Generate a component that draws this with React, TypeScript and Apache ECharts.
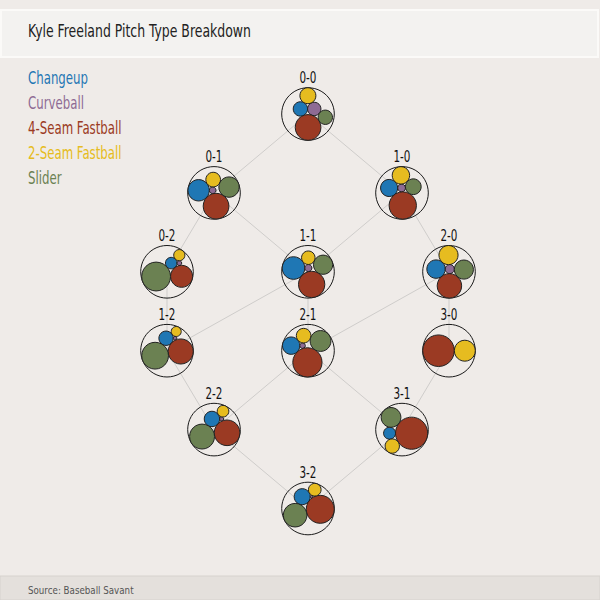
import React, { useEffect, useRef } from "react";
import * as echarts from "echarts";

const COUNTS = ["0-0", "0-1", "1-0", "0-2", "1-1", "2-0", "1-2", "2-1", "3-0", "2-2", "3-1", "3-2"];
const PITCH_TYPES = ["Changeup", "Curveball", "4-Seam Fastball", "2-Seam Fastball", "Slider"];
const PITCH_COLORS = ["#1f77b4", "#8e6b94", "#9b3a23", "#e6bc20", "#6b8152"];
// share of pitches (%) per count, in COUNTS order
const CHANGEUP = [13.7, 25.5, 17.7, 8.3, 28.3, 19.4, 12.4, 15.9, 0, 14.2, 8.1, 14.6];
const CURVEBALL = [11.8, 2.5, 3.7, 1.4, 2.8, 4.7, 0.8, 1.6, 0, 1.0, 0, 0.4];
const FOURSEAM = [43.8, 36.9, 45.2, 30.4, 38.4, 34.2, 37.8, 45.0, 69.5, 39.4, 58.2, 44.5];
const TWOSEAM = [17.0, 12.0, 18.4, 7.8, 10.1, 20.9, 6.0, 11.2, 30.5, 8.1, 11.6, 9.1];
const SLIDER = [13.7, 23.1, 15.0, 52.0, 20.5, 20.9, 43.0, 22.9, 0, 37.3, 22.1, 31.5];
const SERIES_VALUES = [CHANGEUP, CURVEBALL, FOURSEAM, TWOSEAM, SLIDER];

const TITLE = "Kyle Freeland Pitch Type Breakdown";
const SOURCE = "Source: Baseball Savant";

const FONT = "'DejaVu Sans Condensed', 'DejaVu Sans', sans-serif";
const NARROW = 0.77;
const OUTER_R = 26.3;

type Circ = { x: number; y: number; r: number; k: number };

// ---- circle packing (port of d3-hierarchy packSiblings, centroid variant) ----
function place(a: Circ, b: Circ, c: Circ) {
  const ax = a.x, ay = a.y;
  let da = b.r + c.r, db = a.r + c.r;
  const dx = b.x - ax, dy = b.y - ay, dc = dx * dx + dy * dy;
  if (dc) {
    db *= db;
    da *= da;
    const x = 0.5 + (db - da) / (2 * dc);
    const dbm = db - dc;
    const y = Math.sqrt(Math.max(0, 2 * da * (db + dc) - dbm * dbm - da * da)) / (2 * dc);
    c.x = ax + x * dx + y * dy;
    c.y = ay + x * dy - y * dx;
  } else {
    c.x = ax + db;
    c.y = ay;
  }
}
function intersects(a: Circ, b: Circ) {
  const dx = b.x - a.x, dy = b.y - a.y, dr = a.r + b.r;
  return dr * dr - 1e-6 > dx * dx + dy * dy;
}
function distance2(c: Circ, x: number, y: number) {
  const dx = c.x - x, dy = c.y - y;
  return dx * dx + dy * dy;
}
function enclosesNot(a: any, b: any) {
  const dr = a.r - b.r, dx = b.x - a.x, dy = b.y - a.y;
  return dr < 0 || dr * dr < dx * dx + dy * dy;
}
function enclosesWeak(a: any, b: any) {
  const dr = a.r - b.r + Math.max(a.r, b.r, 1) * 1e-9, dx = b.x - a.x, dy = b.y - a.y;
  return dr > 0 && dr * dr > dx * dx + dy * dy;
}
function enclosesWeakAll(a: any, B: any[]) {
  for (let i = 0; i < B.length; ++i) if (!enclosesWeak(a, B[i])) return false;
  return true;
}
function encloseBasis2(a: any, b: any) {
  const x1 = a.x, y1 = a.y, r1 = a.r, x2 = b.x, y2 = b.y, r2 = b.r;
  const x21 = x2 - x1, y21 = y2 - y1, r21 = r2 - r1;
  const l = Math.sqrt(x21 * x21 + y21 * y21);
  return { x: (x1 + x2 + (x21 / l) * r21) / 2, y: (y1 + y2 + (y21 / l) * r21) / 2, r: (l + r1 + r2) / 2 };
}
function encloseBasis3(a: any, b: any, c: any) {
  const x1 = a.x, y1 = a.y, r1 = a.r, x2 = b.x, y2 = b.y, r2 = b.r, x3 = c.x, y3 = c.y, r3 = c.r;
  const a2 = x1 - x2, a3 = x1 - x3, b2 = y1 - y2, b3 = y1 - y3, c2 = r2 - r1, c3 = r3 - r1;
  const d1 = x1 * x1 + y1 * y1 - r1 * r1;
  const d2 = d1 - x2 * x2 - y2 * y2 + r2 * r2;
  const d3 = d1 - x3 * x3 - y3 * y3 + r3 * r3;
  const ab = a3 * b2 - a2 * b3;
  const xa = (b2 * d3 - b3 * d2) / (ab * 2) - x1;
  const xb = (b3 * c2 - b2 * c3) / ab;
  const ya = (a3 * d2 - a2 * d3) / (ab * 2) - y1;
  const yb = (a2 * c3 - a3 * c2) / ab;
  const A = xb * xb + yb * yb - 1;
  const B = 2 * (r1 + xa * xb + ya * yb);
  const C = xa * xa + ya * ya - r1 * r1;
  const r = -(Math.abs(A) > 1e-6 ? (B + Math.sqrt(B * B - 4 * A * C)) / (2 * A) : C / B);
  return { x: x1 + xa + xb * r, y: y1 + ya + yb * r, r };
}
function encloseBasis(B: any[]) {
  if (B.length === 1) return { x: B[0].x, y: B[0].y, r: B[0].r };
  if (B.length === 2) return encloseBasis2(B[0], B[1]);
  return encloseBasis3(B[0], B[1], B[2]);
}
function extendBasis(B: any[], p: any) {
  if (enclosesWeakAll(p, B)) return [p];
  for (let i = 0; i < B.length; ++i) {
    if (enclosesNot(p, B[i]) && enclosesWeakAll(encloseBasis2(B[i], p), B)) return [B[i], p];
  }
  for (let i = 0; i < B.length - 1; ++i) {
    for (let j = i + 1; j < B.length; ++j) {
      if (
        enclosesNot(encloseBasis2(B[i], B[j]), p) &&
        enclosesNot(encloseBasis2(B[i], p), B[j]) &&
        enclosesNot(encloseBasis2(B[j], p), B[i]) &&
        enclosesWeakAll(encloseBasis3(B[i], B[j], p), B)
      ) return [B[i], B[j], p];
    }
  }
  return B;
}
function enclose(circles: any[]) {
  let i = 0, B: any[] = [], e: any = null, guard = 0;
  const n = circles.length;
  while (i < n && guard++ < 10000) {
    const p = circles[i];
    if (e && enclosesWeak(e, p)) ++i;
    else { B = extendBasis(B, p); e = encloseBasis(B); i = 0; }
  }
  return e;
}
function packSiblings(circles: Circ[]): number {
  const n = circles.length;
  if (!n) return 0;
  let a: any, b: any, c: any, i: number, j: any, k: any, sj: number, sk: number;
  a = circles[0]; a.x = 0; a.y = 0;
  if (!(n > 1)) return a.r;
  b = circles[1]; a.x = -b.r; b.x = a.r; b.y = 0;
  if (!(n > 2)) return a.r + b.r;
  place(b, a, (c = circles[2]));
  let aa = a.r * a.r, ba = b.r * b.r, ca = c.r * c.r;
  let oa = aa + ba + ca;
  let ox = aa * a.x + ba * b.x + ca * c.x;
  let oy = aa * a.y + ba * b.y + ca * c.y;
  a = { _: a, next: null, previous: null };
  b = { _: b, next: null, previous: null };
  c = { _: c, next: null, previous: null };
  a.next = c.previous = b;
  b.next = a.previous = c;
  c.next = b.previous = a;
  pack: for (i = 3; i < n; ++i) {
    place(a._, b._, (c = circles[i]));
    c = { _: c, next: null, previous: null };
    j = b.next; k = a.previous; sj = b._.r; sk = a._.r;
    do {
      if (sj <= sk) {
        if (intersects(j._, c._)) { b = j; a.next = b; b.previous = a; --i; continue pack; }
        sj += j._.r; j = j.next;
      } else {
        if (intersects(k._, c._)) { a = k; a.next = b; b.previous = a; --i; continue pack; }
        sk += k._.r; k = k.previous;
      }
    } while (j !== k.next);
    c.previous = a; c.next = b; a.next = b.previous = b = c;
    ca = c._.r * c._.r;
    oa += ca; ox += ca * c._.x; oy += ca * c._.y;
    const cx = ox / oa, cy = oy / oa;
    aa = distance2(a._, cx, cy);
    while ((c = c.next) !== b) {
      const d = distance2(c._, cx, cy);
      if (d < aa) { a = c; aa = d; }
    }
    b = a.next;
  }
  const front: Circ[] = [b._];
  c = b;
  while ((c = c.next) !== b) front.push(c._);
  const e = enclose(front);
  for (i = 0; i < n; ++i) { circles[i].x -= e.x; circles[i].y -= e.y; }
  return e.r;
}

// ---- build node layout ----
const NODES = COUNTS.map((name, idx) => {
  const [balls, strikes] = name.split("-").map(Number);
  const row = balls + strikes;
  const rowMembers = COUNTS.filter((c) => c.split("-").map(Number).reduce((s, v) => s + v, 0) === row)
    .map((c) => Number(c.split("-")[0]))
    .sort((p, q) => p - q);
  const pos = rowMembers.indexOf(balls);
  const m = rowMembers.length;
  const col = m === 1 ? 0 : m === 2 ? (pos === 0 ? -2 : 2) : (pos - 1) * 3;
  const circles: Circ[] = [];
  SERIES_VALUES.forEach((arr, k) => {
    const v = arr[idx];
    if (v > 0) circles.push({ x: 0, y: 0, r: Math.sqrt(v), k });
  });
  const encR = packSiblings(circles);
  return { name, balls, strikes, row, col, circles, encR };
});

const EDGES: number[][] = [];
NODES.forEach((nd) => {
  const nb = NODES.find((o) => o.balls === nd.balls + 1 && o.strikes === nd.strikes);
  const ns = NODES.find((o) => o.balls === nd.balls && o.strikes === nd.strikes + 1);
  if (nb) EDGES.push([nd.col, nd.row, nb.col, nb.row]);
  if (ns) EDGES.push([nd.col, nd.row, ns.col, ns.row]);
});

export default function App() {
  const ref = useRef<HTMLDivElement>(null);
  useEffect(() => {
    if (!ref.current) return;
    const chart = echarts.init(ref.current, undefined, { renderer: "svg" });
    const legendTexts = PITCH_TYPES.map((t, i) => ({
      type: "text",
      x: 28,
      y: 78 + i * 25,
      scaleX: NARROW,
      style: { text: t, x: 0, y: 0, verticalAlign: "middle", fill: PITCH_COLORS[i], font: `17px ${FONT}` },
    }));
    chart.setOption({
      animation: false,
      backgroundColor: "#efebe8",
      grid: { left: 73, width: 470, top: 35.1, height: 552.3 },
      xAxis: { type: "value", min: -5, max: 5, show: false },
      yAxis: { type: "value", min: -1, max: 6, inverse: true, show: false },
      graphic: [
        {
          type: "rect",
          shape: { x: 1, y: 10, width: 597, height: 47 },
          style: { fill: "#f3f2f0", stroke: "#fbfaf8", lineWidth: 2 },
          z: 0,
        },
        {
          type: "text",
          x: 28,
          y: 30.5,
          scaleX: NARROW,
          style: { text: TITLE, x: 0, y: 0, verticalAlign: "middle", fill: "#222", font: `18px ${FONT}` },
        },
        {
          type: "rect",
          shape: { x: 0, y: 576, width: 600, height: 24 },
          style: { fill: "#e4e0dc", stroke: "#d6d2ce", lineWidth: 1 },
        },
        {
          type: "text",
          x: 28,
          y: 589.5,
          scaleX: 0.88,
          style: { text: SOURCE, x: 0, y: 0, verticalAlign: "middle", fill: "#555", font: `11px ${FONT}` },
        },
        ...legendTexts,
      ],
      series: [
        {
          type: "custom",
          z: 1,
          silent: true,
          data: EDGES,
          renderItem: (params: any, api: any) => {
            const p1 = api.coord([api.value(0), api.value(1)]);
            const p2 = api.coord([api.value(2), api.value(3)]);
            return {
              type: "line",
              shape: { x1: p1[0], y1: p1[1], x2: p2[0], y2: p2[1] },
              style: { stroke: "#cfcdcb", lineWidth: 1 },
            };
          },
        },
        {
          type: "custom",
          z: 2,
          silent: true,
          data: NODES.map((n, i) => [n.col, n.row, i]),
          renderItem: (params: any, api: any) => {
            const nd = NODES[api.value(2)];
            const c = api.coord([api.value(0), api.value(1)]);
            const s = OUTER_R / nd.encR;
            const children: any[] = [
              {
                type: "circle",
                shape: { cx: c[0], cy: c[1], r: OUTER_R },
                style: { fill: "none", stroke: "#1a1a1a", lineWidth: 1 },
              },
            ];
            nd.circles.forEach((ci) => {
              children.push({
                type: "circle",
                shape: { cx: c[0] + ci.x * s, cy: c[1] + ci.y * s, r: ci.r * s },
                style: { fill: PITCH_COLORS[ci.k], stroke: "#222", lineWidth: 1 },
              });
            });
            children.push({
              type: "text",
              x: c[0],
              y: c[1] - OUTER_R - 9.5,
              scaleX: NARROW,
              style: {
                text: nd.name,
                x: 0,
                y: 0,
                align: "center",
                verticalAlign: "middle",
                fill: "#111",
                font: `15px ${FONT}`,
              },
            });
            return { type: "group", children };
          },
        },
      ],
    });
    return () => chart.dispose();
  }, []);
  return <div ref={ref} style={{ position: "absolute", left: 0, top: 0, width: 600, height: 600 }} />;
}
